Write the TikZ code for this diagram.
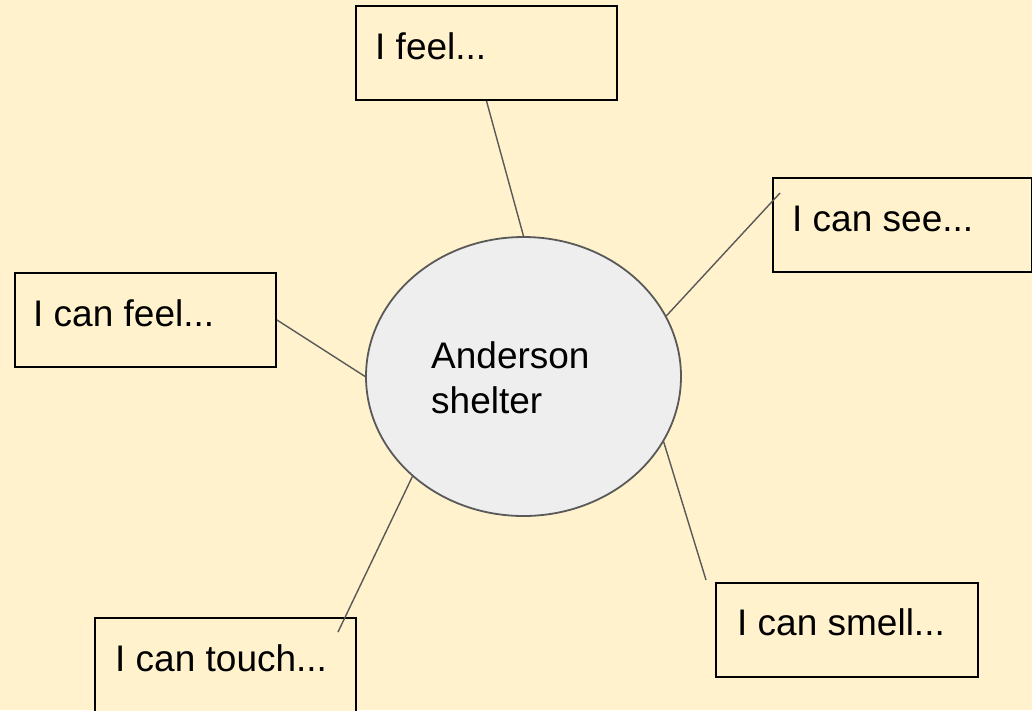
\documentclass[tikz,border=0pt]{standalone}
\usepackage{fontspec}
\setmainfont{Liberation Sans}
\usetikzlibrary{shapes.geometric,calc}
\definecolor{bgyellow}{HTML}{FFF2CC}
\definecolor{linegray}{HTML}{595959}
\definecolor{ellfill}{HTML}{EEEEEE}
\tikzset{
  boxnode/.style={draw=black, line width=2pt, fill=bgyellow, rectangle, inner sep=0pt, anchor=north west},
  txt/.style={inner sep=0pt, anchor=base west, font=\fontsize{37}{45}\selectfont, text=black},
  conn/.style={draw=linegray, line width=1.4pt},
  centre/.style={ellipse, draw=linegray, line width=1.8pt, fill=ellfill, inner sep=0pt,
    minimum width=315pt, minimum height=279pt}
}
\begin{document}
\begin{tikzpicture}[x=1pt,y=-1pt]
\fill[bgyellow] (0,0) rectangle (1032,710);
\useasboundingbox (0,0) rectangle (1032,710);

% boxes
\node[boxnode, minimum width=261pt, minimum height=94pt] (feel) at (355,5) {};
\node[boxnode, minimum width=259pt, minimum height=94pt] (see) at (772,177) {};
\node[boxnode, minimum width=261pt, minimum height=94pt] (canfeel) at (14,272) {};
\node[boxnode, minimum width=261pt, minimum height=96pt] (touch) at (94,617) {};
\node[boxnode, minimum width=262pt, minimum height=94pt] (smell) at (715,582) {};

% centre
\node[centre] (ell) at (523.5,376.5) {};

% connectors
\coordinate (seeEnd) at (780,193);
\coordinate (touchEnd) at (338,632);
\coordinate (smellEnd) at (706,580);
\draw[conn] (feel.south) -- (ell.north);
\draw[conn] (seeEnd) -- (ell.23);
\draw[conn] (canfeel.east) -- (ell.west);
\draw[conn] (ell.222) -- (touchEnd);
\draw[conn] (ell.-25) -- (smellEnd);

% texts
\node[txt] (tfeel) at (375,59) {I feel...};
\node[txt] (tsee) at (792,231) {I can see...};
\node[txt] (tcanfeel) at (33,326) {I can feel...};
\node[txt] (ttouch) at (115,671) {I can touch...};
\node[txt] (tsmell) at (737,635) {I can smell...};
\node[txt] (tand) at (431,368) {Anderson};
\node[txt] (tshel) at (431,413) {shelter};
\end{tikzpicture}
\end{document}
